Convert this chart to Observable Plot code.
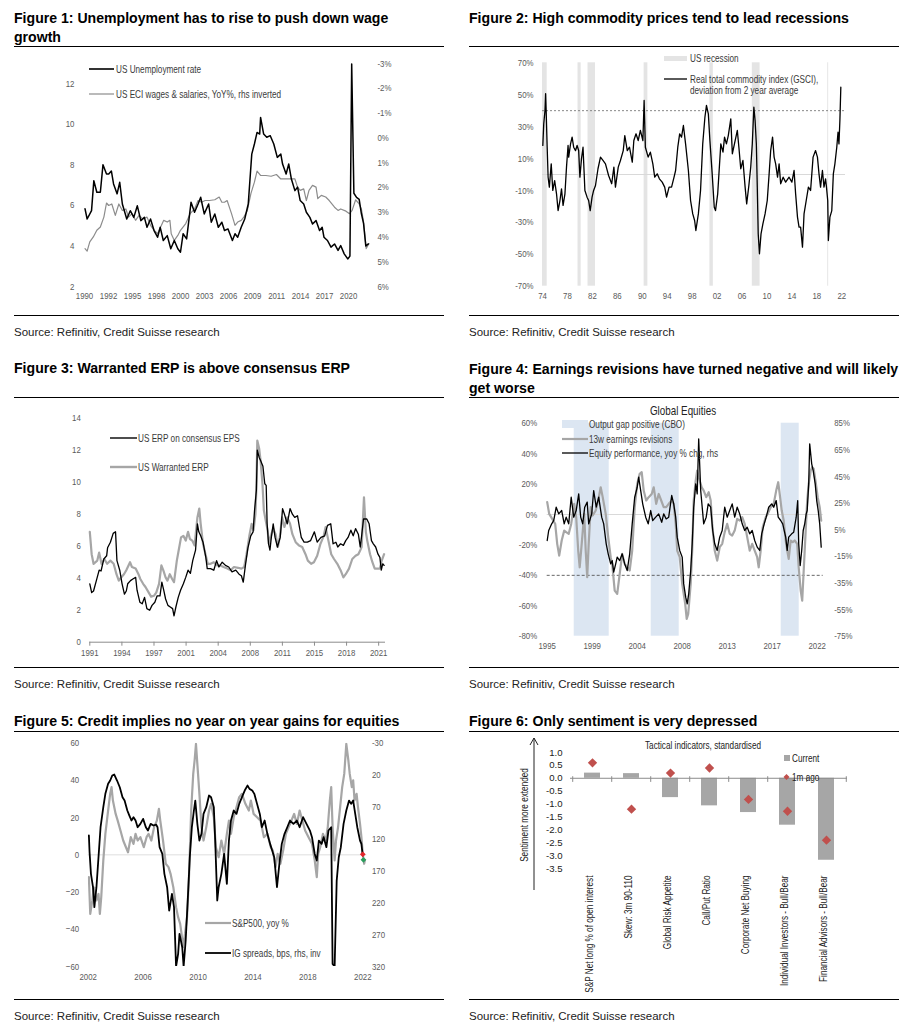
<!DOCTYPE html>
<html><head><meta charset="utf-8">
<script src="https://cdn.jsdelivr.net/npm/d3@7"></script>
<script src="https://cdn.jsdelivr.net/npm/@observablehq/plot@0.6"></script>
<style>
body{margin:0;background:#fff;}
#page{position:relative;width:910px;height:1028px;overflow:hidden;font-family:"Liberation Sans",Arial,sans-serif;background:#fff;}
.title{position:absolute;font-weight:bold;font-size:14.1px;line-height:19px;color:#000;white-space:nowrap;}
.rule{position:absolute;height:0;border-top:1.3px solid #000;}
.source{position:absolute;font-size:11.5px;line-height:14px;color:#222;white-space:nowrap;}
.plot{position:absolute;}
#overlay{position:absolute;left:0;top:0;pointer-events:none;}
</style></head><body><div id="page"></div>
<script>
const FONT = '"Liberation Sans",Arial,sans-serif';
const NARROW_K = 0.82; // horizontal condensing to imitate Arial Narrow

// ---------- Figure 1 ----------
const fig1Unemp = [[1990.06,5.83],[1990.3,5.33],[1990.8,5.74],[1991.06,7.22],[1991.4,6.65],[1991.8,6.65],[1992.1,8.01],[1992.5,7.55],[1992.75,7.55],[1993.05,7.7],[1993.3,7.06],[1993.7,6.57],[1994.0,7.14],[1994.3,6.07],[1994.8,5.33],[1995.2,5.74],[1995.6,5.41],[1996.0,5.98],[1996.4,5.25],[1996.8,5.41],[1997.1,4.92],[1997.5,5.33],[1997.9,4.76],[1998.3,4.43],[1998.6,4.92],[1998.95,4.27],[1999.4,4.51],[1999.8,3.86],[2000.2,4.27],[2000.6,3.86],[2000.9,3.69],[2001.2,4.6],[2001.6,4.35],[2002.1,6.15],[2002.5,5.66],[2002.9,6.07],[2003.2,6.4],[2003.6,5.58],[2004.1,6.07],[2004.4,5.17],[2004.8,5.58],[2005.2,4.92],[2005.6,5.17],[2005.9,4.76],[2006.3,4.84],[2006.8,4.27],[2007.1,4.6],[2007.4,4.43],[2007.8,4.92],[2008.2,5.33],[2008.6,6.07],[2009.0,8.53],[2009.3,9.03],[2009.6,9.6],[2009.9,9.52],[2010.0,10.34],[2010.35,9.52],[2010.7,9.36],[2011.1,9.44],[2011.5,9.03],[2011.9,8.37],[2012.3,8.53],[2012.5,8.04],[2012.9,7.55],[2013.2,8.04],[2013.5,7.3],[2013.9,6.73],[2014.2,6.9],[2014.5,6.24],[2014.9,6.07],[2015.2,5.66],[2015.6,5.41],[2015.9,5.08],[2016.3,5.25],[2016.7,4.76],[2017.0,4.92],[2017.2,4.43],[2017.6,4.27],[2018.0,3.94],[2018.4,4.1],[2018.8,3.78],[2019.1,4.02],[2019.5,3.61],[2019.9,3.36],[2020.15,3.5],[2020.35,12.97],[2020.6,6.6],[2020.9,6.4],[2021.2,6.3],[2021.45,5.6],[2021.7,5.1],[2021.95,4.0],[2022.25,4.1]];
const fig1Eci = [[1990.06,4.47],[1990.3,4.57],[1990.6,4.2],[1991.0,4.0],[1991.4,3.73],[1991.8,3.6],[1992.2,3.2],[1992.5,2.63],[1992.75,2.73],[1993.1,2.67],[1993.5,3.13],[1993.9,2.67],[1994.3,2.93],[1994.7,2.87],[1995.0,3.2],[1995.4,3.06],[1995.8,3.33],[1996.2,3.13],[1996.6,3.27],[1997.1,3.2],[1997.5,3.53],[1997.9,3.73],[1998.3,3.87],[1998.65,3.6],[1999.0,3.33],[1999.4,3.4],[1999.7,3.33],[1999.85,3.87],[2000.2,4.14],[2000.6,3.94],[2000.9,3.73],[2001.5,3.46],[2002.0,3.06],[2002.5,2.87],[2002.9,2.53],[2003.3,2.6],[2003.7,2.53],[2004.2,2.53],[2004.8,2.5],[2005.3,2.39],[2005.6,2.6],[2005.9,2.6],[2006.2,2.53],[2006.7,3.06],[2007.1,3.53],[2007.4,3.4],[2007.8,3.33],[2008.1,3.2],[2008.5,2.93],[2008.9,2.25],[2009.3,1.79],[2009.6,1.34],[2010.0,1.52],[2010.6,1.52],[2011.2,1.55],[2011.8,1.48],[2012.3,1.66],[2013.1,1.66],[2013.9,1.66],[2014.2,1.99],[2014.5,2.12],[2014.9,2.06],[2015.2,2.53],[2015.5,2.12],[2015.9,1.92],[2016.3,1.99],[2016.5,2.45],[2016.9,2.32],[2017.4,2.39],[2017.8,2.53],[2018.4,2.8],[2018.8,2.93],[2019.1,2.87],[2019.7,2.96],[2020.1,3.06],[2020.4,2.93],[2020.8,2.5],[2021.2,2.67],[2021.45,2.87],[2021.7,3.4],[2022.0,4.47],[2022.3,4.27]];
const fig1LeftTicks = [2,4,6,8,10,12];
const fig1RightTicks = [-3,-2,-1,0,1,2,3,4,5,6];
const fig1XLabels = ["1990","1992","1995","1998","2000","2003","2006","2009","2011","2014","2017","2020"];

// ---------- Figure 2 ----------
const fig2Gsci = [[1974.05,18.2],[1974.2,31.8],[1974.4,40.1],[1974.5,50.6],[1974.6,38.0],[1974.75,17.1],[1974.9,-1.7],[1975.1,-7.9],[1975.4,6.7],[1975.65,-10.0],[1975.95,-3.8],[1976.25,-12.1],[1976.5,-22.6],[1976.8,-16.3],[1977.05,-9.0],[1977.3,-19.4],[1977.6,-12.1],[1977.85,4.6],[1978.1,18.2],[1978.2,10.9],[1978.5,19.2],[1978.75,23.4],[1979.0,17.1],[1979.3,15.0],[1979.55,18.2],[1979.8,15.0],[1980.0,-1.7],[1980.25,9.8],[1980.5,17.1],[1980.8,-10.0],[1981.15,-14.2],[1981.4,-16.3],[1981.65,-22.6],[1981.95,-14.2],[1982.2,-10.0],[1982.5,-6.9],[1982.9,3.6],[1983.3,10.9],[1983.7,8.8],[1984.1,6.7],[1984.6,-0.6],[1985.1,-5.8],[1985.45,4.6],[1985.7,-7.9],[1986.15,4.6],[1986.5,8.8],[1986.95,15.0],[1987.2,24.4],[1987.6,15.0],[1987.95,17.1],[1988.4,7.7],[1988.65,21.3],[1989.0,25.5],[1989.35,21.3],[1989.7,27.6],[1990.1,21.3],[1990.3,46.4],[1990.5,17.1],[1990.95,10.9],[1991.3,14.0],[1991.7,6.7],[1992.0,-1.7],[1992.4,0.4],[1992.75,-2.7],[1993.2,-4.8],[1993.6,-7.9],[1993.9,-14.2],[1994.3,-7.9],[1994.7,-7.9],[1995.1,-1.7],[1995.35,2.5],[1995.7,17.1],[1996.0,25.5],[1996.3,23.4],[1996.6,30.7],[1996.95,19.2],[1997.4,2.5],[1997.75,-16.3],[1998.1,-24.7],[1998.4,-28.8],[1998.6,-35.1],[1999.0,-24.7],[1999.35,-10.0],[1999.7,19.2],[2000.05,35.9],[2000.3,43.3],[2000.6,38.0],[2000.85,21.3],[2001.2,1.5],[2001.55,-20.5],[2001.75,-22.6],[2002.1,-12.1],[2002.3,0.4],[2002.6,19.2],[2002.95,14.0],[2003.2,23.4],[2003.5,19.2],[2003.8,24.4],[2004.2,34.9],[2004.45,13.0],[2004.9,21.3],[2005.25,27.6],[2005.5,17.1],[2005.8,3.6],[2006.15,8.8],[2006.5,-7.9],[2006.75,-18.4],[2007.1,-6.9],[2007.4,4.6],[2007.65,19.2],[2007.9,42.2],[2008.1,33.8],[2008.3,19.2],[2008.45,-7.9],[2008.6,-37.2],[2008.8,-49.7],[2009.05,-37.2],[2009.35,-30.9],[2009.7,-24.7],[2010.05,-16.3],[2010.35,0.4],[2010.6,15.0],[2010.9,23.4],[2011.15,10.9],[2011.4,6.7],[2011.7,-1.7],[2011.95,6.7],[2012.2,-5.8],[2012.6,-1.7],[2013.0,-4.8],[2013.55,-1.7],[2014.0,-4.8],[2014.35,2.5],[2014.6,-12.1],[2014.9,-26.7],[2015.15,-33.0],[2015.4,-33.0],[2015.7,-45.5],[2015.95,-24.7],[2016.3,-16.3],[2016.65,-7.9],[2017.0,-10.0],[2017.4,10.9],[2017.8,15.0],[2018.1,10.9],[2018.35,0.4],[2018.6,-7.9],[2018.9,2.5],[2019.15,-7.9],[2019.4,-2.7],[2019.55,-7.9],[2019.75,-16.3],[2019.85,-41.4],[2020.1,-26.7],[2020.4,-22.6],[2020.65,0.4],[2020.9,6.7],[2021.2,17.1],[2021.4,26.5],[2021.55,19.2],[2021.7,33.8],[2021.85,54.7]];
const fig2Recessions = [[1974.0,1974.75],[1979.7,1980.2],[1981.3,1982.5],[1990.3,1990.9],[2000.85,2001.4],[2007.65,2008.9],[2019.75,2019.9]];
const fig2Threshold = [40];
const fig2YTicks = [-70,-50,-30,-10,10,30,50,70];
const fig2XTicks = [1974,1978,1982,1986,1990,1994,1998,2002,2006,2010,2014,2018,2022];

// ---------- Figure 3 ----------
const fig3Consensus = [[1991.0,3.65],[1991.2,3.1],[1991.4,3.2],[1991.7,3.85],[1992.0,4.5],[1992.2,4.45],[1992.5,5.2],[1992.8,5.4],[1992.9,5.9],[1993.2,6.25],[1993.5,6.8],[1993.75,6.9],[1993.9,5.1],[1994.2,4.5],[1994.45,3.65],[1994.7,3.0],[1994.9,3.2],[1995.05,3.65],[1995.35,3.85],[1995.6,3.95],[1995.9,4.05],[1996.05,3.25],[1996.35,2.5],[1996.6,2.4],[1996.85,2.8],[1997.1,2.1],[1997.4,2.0],[1997.65,2.3],[1997.95,2.5],[1998.2,2.9],[1998.5,2.9],[1998.7,3.75],[1998.9,3.25],[1999.1,2.7],[1999.35,2.3],[1999.6,2.2],[1999.85,2.1],[2000.0,1.65],[2000.2,2.2],[2000.45,2.8],[2000.7,3.25],[2001.0,3.65],[2001.25,4.05],[2001.5,4.5],[2001.75,4.3],[2002.0,5.1],[2002.3,5.75],[2002.5,7.4],[2002.65,6.9],[2002.85,6.65],[2003.1,6.25],[2003.4,5.3],[2003.55,4.6],[2003.9,4.6],[2004.25,4.5],[2004.55,5.1],[2004.8,4.7],[2005.15,5.0],[2005.5,4.8],[2005.85,4.7],[2006.2,4.4],[2006.6,4.5],[2006.95,4.25],[2007.2,4.15],[2007.4,3.75],[2007.65,4.9],[2007.9,5.9],[2008.2,6.65],[2008.45,6.9],[2008.6,8.2],[2008.8,9.5],[2008.9,12.0],[2009.1,11.55],[2009.25,11.35],[2009.5,11.0],[2009.7,9.9],[2009.85,9.8],[2009.95,7.4],[2010.1,6.15],[2010.25,5.75],[2010.4,6.55],[2010.6,7.4],[2010.8,6.55],[2011.05,5.95],[2011.35,6.55],[2011.6,8.35],[2011.8,8.0],[2012.1,7.4],[2012.4,8.35],[2012.65,8.0],[2012.9,7.8],[2013.2,7.9],[2013.4,7.2],[2013.6,6.55],[2013.9,6.25],[2014.25,6.25],[2014.6,6.35],[2015.0,6.9],[2015.3,6.25],[2015.7,6.55],[2016.1,6.65],[2016.4,7.3],[2016.75,7.4],[2017.0,6.15],[2017.3,6.25],[2017.5,5.95],[2017.8,6.15],[2018.1,6.05],[2018.35,6.35],[2018.6,6.55],[2018.9,7.0],[2019.15,6.65],[2019.4,7.1],[2019.7,6.75],[2019.9,5.95],[2020.05,6.65],[2020.25,7.7],[2020.6,7.7],[2020.85,7.4],[2021.1,6.35],[2021.3,6.15],[2021.55,5.95],[2021.8,5.5],[2022.0,5.3],[2022.15,4.5],[2022.3,4.9],[2022.45,4.8]];
const fig3Warranted = [[1991.0,6.9],[1991.2,5.5],[1991.4,4.9],[1991.8,5.1],[1992.0,5.6],[1992.25,4.9],[1992.55,5.2],[1992.85,4.9],[1993.2,5.1],[1993.55,4.9],[1993.85,4.25],[1994.1,3.85],[1994.35,4.05],[1994.65,4.25],[1994.9,4.5],[1995.3,5.0],[1995.5,4.7],[1995.9,4.6],[1996.2,4.25],[1996.4,3.95],[1996.7,3.65],[1996.95,3.45],[1997.3,3.1],[1997.55,2.85],[1997.85,2.9],[1998.1,3.1],[1998.4,3.65],[1998.65,4.8],[1998.85,4.5],[1999.1,4.05],[1999.3,3.85],[1999.55,4.25],[1999.8,3.95],[2000.0,3.75],[2000.3,5.1],[2000.5,5.75],[2000.75,6.55],[2001.0,6.65],[2001.25,6.35],[2001.5,6.9],[2001.7,6.45],[2001.95,6.35],[2002.2,6.05],[2002.5,7.8],[2002.7,8.35],[2002.85,7.4],[2003.1,6.15],[2003.4,5.4],[2003.6,4.9],[2003.9,4.9],[2004.25,5.0],[2004.6,4.8],[2004.95,4.8],[2005.3,4.7],[2005.7,4.6],[2006.05,4.5],[2006.4,4.7],[2006.85,4.65],[2007.2,4.6],[2007.5,4.7],[2007.75,5.5],[2008.05,6.65],[2008.3,7.4],[2008.5,7.0],[2008.7,8.0],[2008.8,9.6],[2008.9,12.6],[2009.1,12.1],[2009.25,11.35],[2009.45,9.9],[2009.6,8.25],[2009.8,7.6],[2010.0,7.0],[2010.15,6.15],[2010.4,6.75],[2010.6,7.1],[2010.85,6.75],[2011.1,5.95],[2011.3,6.55],[2011.55,7.8],[2011.8,7.2],[2012.1,7.8],[2012.4,7.4],[2012.65,6.75],[2013.0,6.25],[2013.35,6.05],[2013.7,5.95],[2014.05,5.5],[2014.3,5.1],[2014.65,4.9],[2014.95,5.0],[2015.3,5.4],[2015.65,6.15],[2016.0,6.65],[2016.2,7.2],[2016.5,6.35],[2016.8,5.5],[2017.1,5.2],[2017.45,4.9],[2017.8,4.5],[2018.1,4.05],[2018.35,4.25],[2018.7,4.6],[2019.05,5.2],[2019.4,5.4],[2019.7,5.5],[2019.9,5.75],[2020.05,5.95],[2020.3,9.05],[2020.5,6.9],[2020.65,6.35],[2020.95,5.5],[2021.2,5.0],[2021.45,4.6],[2021.75,4.6],[2022.0,4.6],[2022.2,5.1],[2022.45,5.5]];
const fig3YTicks = [0,2,4,6,8,10,12,14];
const fig3XLabels = ["1991","1994","1997","2001","2004","2008","2011","2015","2018","2021"];

// ---------- Figure 4 ----------
const fig4Revisions = [[1995.0,8.1],[1995.2,0.4],[1995.5,-2.9],[1995.8,-6.2],[1996.0,-19.3],[1996.2,-27.0],[1996.45,-17.1],[1996.7,-10.6],[1996.9,-11.6],[1997.15,-12.7],[1997.4,-6.2],[1997.7,7.0],[1997.9,-1.8],[1998.1,-23.7],[1998.25,-34.7],[1998.45,-19.3],[1998.7,0.4],[1998.85,-23.7],[1999.0,-41.2],[1999.15,-19.3],[1999.35,4.8],[1999.55,-0.7],[1999.85,2.6],[2000.1,9.2],[2000.35,17.9],[2000.55,11.4],[2000.85,0.4],[2001.1,-14.9],[2001.35,-28.1],[2001.5,-32.5],[2001.75,-50.0],[2002.0,-52.2],[2002.25,-39.0],[2002.5,-25.9],[2002.75,-32.5],[2003.0,-34.7],[2003.25,-36.8],[2003.5,-23.7],[2003.75,4.8],[2004.0,20.1],[2004.25,26.7],[2004.45,27.8],[2004.65,15.7],[2004.9,9.2],[2005.15,11.4],[2005.45,13.5],[2005.65,17.9],[2005.9,7.0],[2006.15,13.5],[2006.4,9.2],[2006.65,4.8],[2006.9,4.8],[2007.15,7.0],[2007.45,9.2],[2007.65,7.0],[2007.85,-6.2],[2008.0,-23.7],[2008.25,-28.1],[2008.5,-45.6],[2008.8,-58.8],[2008.95,-68.6],[2009.1,-65.3],[2009.35,-45.6],[2009.5,-23.7],[2009.65,9.2],[2009.85,22.3],[2010.0,28.9],[2010.15,24.5],[2010.45,17.9],[2010.65,15.7],[2010.9,11.4],[2011.15,14.6],[2011.35,9.2],[2011.5,-6.2],[2011.75,-23.7],[2012.0,-30.3],[2012.25,-21.5],[2012.5,-19.3],[2012.75,-11.6],[2013.0,-6.2],[2013.25,-12.7],[2013.5,-13.8],[2013.75,-10.6],[2014.0,-2.9],[2014.25,-4.0],[2014.5,-1.8],[2014.75,-6.2],[2015.0,-14.9],[2015.25,-23.7],[2015.5,-19.3],[2015.75,-23.7],[2016.0,-28.1],[2016.15,-34.7],[2016.35,-23.7],[2016.55,-8.4],[2016.85,-1.8],[2017.05,0.4],[2017.35,4.8],[2017.65,7.0],[2017.9,15.7],[2018.1,21.2],[2018.25,13.5],[2018.45,2.6],[2018.65,-4.0],[2018.85,-17.1],[2019.0,-23.7],[2019.15,-29.2],[2019.35,-17.1],[2019.55,-18.2],[2019.75,-17.1],[2020.0,-19.3],[2020.15,-34.7],[2020.35,-50.0],[2020.5,-56.6],[2020.65,-36.8],[2020.85,-10.6],[2021.0,9.2],[2021.15,20.1],[2021.35,28.9],[2021.5,31.1],[2021.65,30.0],[2021.85,21.2],[2022.05,11.4],[2022.25,4.8],[2022.4,-4.0]];
const fig4Equity = [[1995.0,-3.1],[1995.15,4.4],[1995.45,9.4],[1995.65,11.9],[1995.9,21.9],[1996.15,16.9],[1996.45,19.4],[1996.7,9.4],[1996.9,14.4],[1997.15,9.4],[1997.4,29.4],[1997.65,14.4],[1997.9,19.4],[1998.15,31.9],[1998.35,14.4],[1998.55,9.4],[1998.75,21.9],[1999.0,25.7],[1999.15,9.4],[1999.45,16.9],[1999.65,34.4],[1999.9,21.9],[2000.15,29.4],[2000.45,14.4],[2000.65,9.4],[2000.9,-5.6],[2001.1,-13.1],[2001.35,-20.7],[2001.5,-18.2],[2001.65,-26.9],[2001.85,-20.7],[2002.0,-15.6],[2002.25,-18.2],[2002.5,-13.1],[2002.75,-20.7],[2003.0,-25.7],[2003.25,-13.1],[2003.5,9.4],[2003.75,29.4],[2004.0,36.9],[2004.15,44.4],[2004.35,34.4],[2004.55,24.4],[2004.85,14.4],[2005.1,9.4],[2005.35,19.4],[2005.55,11.9],[2005.85,14.4],[2006.15,16.9],[2006.45,10.6],[2006.65,16.9],[2006.9,13.1],[2007.15,14.4],[2007.45,30.7],[2007.65,24.4],[2007.85,14.4],[2008.0,-0.6],[2008.25,-10.6],[2008.5,-15.6],[2008.65,-35.7],[2008.85,-45.7],[2009.0,-50.7],[2009.15,-43.2],[2009.35,-25.7],[2009.5,-5.6],[2009.65,21.9],[2009.85,39.4],[2010.0,31.9],[2010.15,73.2],[2010.35,34.4],[2010.5,21.9],[2010.65,9.4],[2010.9,14.4],[2011.1,24.4],[2011.35,21.9],[2011.55,4.4],[2011.75,-5.6],[2012.0,-10.6],[2012.25,-0.6],[2012.5,4.4],[2012.75,21.9],[2013.0,14.4],[2013.25,19.4],[2013.5,24.4],[2013.75,14.4],[2014.0,21.9],[2014.25,16.9],[2014.5,9.4],[2014.75,4.4],[2015.0,6.9],[2015.25,1.9],[2015.5,4.4],[2015.75,-3.1],[2016.0,-8.1],[2016.25,-10.6],[2016.45,1.9],[2016.7,9.4],[2016.9,14.4],[2017.15,21.9],[2017.45,24.4],[2017.65,21.9],[2017.9,26.9],[2018.1,14.4],[2018.35,11.9],[2018.55,9.4],[2018.85,-0.6],[2019.0,-10.6],[2019.15,-0.6],[2019.45,1.9],[2019.65,3.1],[2019.9,14.4],[2020.05,26.9],[2020.15,-5.6],[2020.3,-21.9],[2020.45,-10.6],[2020.6,4.4],[2020.75,9.4],[2020.9,16.9],[2021.0,19.4],[2021.15,39.4],[2021.25,69.5],[2021.45,54.5],[2021.6,49.4],[2021.8,39.4],[2021.95,26.9],[2022.1,19.4],[2022.25,9.4],[2022.4,-8.1]];
const fig4OutputGap = [[1997.7,2001.2],[2005.4,2008.2],[2018.4,2020.2]];
const fig4Threshold = [-40];
const fig4LeftTicks = [60,40,20,0,-20,-40,-60,-80];
const fig4RightTicks = [85,65,45,25,5,-15,-35,-55,-75];
const fig4XLabels = ["1995","1999","2004","2008","2013","2017","2022"];

// ---------- Figure 5 ----------
const fig5Spx = [[2002.05,-12.0],[2002.15,-31.7],[2002.3,-24.5],[2002.4,-17.4],[2002.6,-24.5],[2002.75,-21.0],[2002.85,-31.7],[2002.95,-22.7],[2003.1,-3.0],[2003.25,11.3],[2003.45,23.8],[2003.6,32.8],[2003.7,36.4],[2003.8,29.2],[2004.0,22.0],[2004.15,18.4],[2004.35,13.1],[2004.55,7.7],[2004.75,4.1],[2004.9,1.4],[2005.1,9.5],[2005.3,5.9],[2005.45,11.3],[2005.6,7.7],[2005.8,9.5],[2006.05,4.1],[2006.25,9.5],[2006.4,11.3],[2006.6,7.7],[2006.8,14.9],[2007.0,18.4],[2007.15,24.7],[2007.25,18.4],[2007.45,7.7],[2007.65,-4.8],[2007.85,-6.6],[2008.0,-10.2],[2008.2,-17.4],[2008.4,-28.1],[2008.55,-33.5],[2008.7,-37.1],[2008.8,-42.5],[2008.9,-49.6],[2009.05,-42.5],[2009.2,-33.5],[2009.35,-10.2],[2009.5,23.8],[2009.65,43.5],[2009.75,50.7],[2009.85,59.6],[2010.0,43.5],[2010.1,32.8],[2010.25,14.9],[2010.4,7.7],[2010.6,14.9],[2010.8,23.8],[2010.95,27.4],[2011.15,20.2],[2011.3,4.1],[2011.5,-1.3],[2011.7,7.7],[2011.9,0.5],[2012.1,11.3],[2012.25,18.4],[2012.4,11.3],[2012.6,20.2],[2012.8,25.6],[2013.0,31.0],[2013.2,32.8],[2013.45,27.4],[2013.7,23.8],[2013.85,29.2],[2014.05,22.0],[2014.3,20.2],[2014.55,18.4],[2014.8,9.5],[2015.05,11.3],[2015.3,4.1],[2015.45,2.3],[2015.65,-6.6],[2015.8,0.5],[2016.0,-4.8],[2016.2,2.3],[2016.4,11.3],[2016.6,14.9],[2016.8,18.4],[2017.0,22.0],[2017.2,16.6],[2017.4,23.8],[2017.6,18.4],[2017.8,13.1],[2018.05,9.5],[2018.3,5.9],[2018.5,-3.0],[2018.65,-12.0],[2018.75,0.5],[2018.9,4.1],[2019.1,11.3],[2019.3,7.7],[2019.45,14.9],[2019.6,29.2],[2019.7,36.4],[2019.8,14.9],[2019.95,-3.0],[2020.05,7.7],[2020.2,14.9],[2020.35,25.6],[2020.5,36.4],[2020.65,43.5],[2020.8,59.6],[2020.95,50.7],[2021.05,43.5],[2021.2,36.4],[2021.3,40.0],[2021.4,29.2],[2021.55,32.8],[2021.65,25.6],[2021.8,16.6],[2021.9,9.5],[2022.0,0.5],[2022.1,-4.8],[2022.15,-3.0]];
const fig5IgSpreads = [[2002.05,114.7],[2002.1,140.8],[2002.2,174.8],[2002.35,195.7],[2002.45,227.0],[2002.6,195.7],[2002.75,148.7],[2002.9,101.7],[2003.1,70.3],[2003.25,49.4],[2003.45,33.7],[2003.6,28.5],[2003.75,20.7],[2003.9,19.1],[2004.1,28.5],[2004.3,39.0],[2004.5,54.6],[2004.65,59.9],[2004.85,75.5],[2005.0,83.4],[2005.15,91.2],[2005.3,86.0],[2005.45,91.2],[2005.6,101.7],[2005.8,96.4],[2006.0,88.6],[2006.2,101.7],[2006.35,106.9],[2006.55,96.4],[2006.75,99.0],[2006.95,97.5],[2007.05,101.7],[2007.2,133.0],[2007.4,143.5],[2007.55,174.8],[2007.75,195.7],[2007.9,232.3],[2008.1,206.2],[2008.25,227.0],[2008.4,320],[2008.55,300.2],[2008.65,268.8],[2008.85,289.8],[2008.95,320],[2009.1,279.3],[2009.25,216.6],[2009.4,148.7],[2009.55,101.7],[2009.7,75.5],[2009.8,59.9],[2009.95,96.4],[2010.1,122.6],[2010.25,112.1],[2010.4,80.8],[2010.6,70.3],[2010.8,52.0],[2010.95,54.6],[2011.15,70.3],[2011.25,122.6],[2011.4,216.6],[2011.5,195.7],[2011.7,174.8],[2011.9,143.5],[2012.1,190.5],[2012.25,122.6],[2012.4,91.2],[2012.6,75.5],[2012.8,80.8],[2013.0,65.1],[2013.2,54.6],[2013.4,44.2],[2013.6,36.4],[2013.75,41.6],[2013.95,44.2],[2014.1,49.4],[2014.3,65.1],[2014.5,80.8],[2014.65,101.7],[2014.85,91.2],[2015.05,112.1],[2015.25,127.8],[2015.4,138.2],[2015.55,148.7],[2015.75,195.7],[2015.95,153.9],[2016.1,127.8],[2016.3,112.1],[2016.5,101.7],[2016.7,91.2],[2016.95,96.4],[2017.2,91.2],[2017.4,101.7],[2017.65,86.0],[2017.9,96.4],[2018.15,106.9],[2018.3,117.3],[2018.5,143.5],[2018.65,153.9],[2018.8,122.6],[2019.0,127.8],[2019.15,117.3],[2019.35,133.0],[2019.5,106.9],[2019.7,101.7],[2019.8,315.9],[2019.95,320],[2020.1,185.3],[2020.25,148.7],[2020.4,133.0],[2020.6,96.4],[2020.8,75.5],[2021.0,59.9],[2021.15,65.1],[2021.3,59.9],[2021.45,80.8],[2021.6,101.7],[2021.8,122.6],[2021.9,127.8],[2022.0,146.1]];
const fig5EndMarks = [{year:2022.0, value:0.3, color:"#e3262b"},{year:2022.05, value:-2.7, color:"#2a9d5c"}];
const fig5LeftTicks = [60,40,20,0,-20,-40,-60];
const fig5RightTicks = [-30,20,70,120,170,220,270,320];
const fig5XTicks = [2002,2006,2010,2014,2018,2022];

// ---------- Figure 6 ----------
const fig6Categories = ["S&P Net long % of open interest","Skew: 3m 90-110","Global Risk Appetite","Call/Put Ratio","Corporate Net Buying","Individual Investors - Bull/Bear","Financial Advisors - Bull/Bear"];
const fig6Current = [0.2, 0.18, -0.75, -1.07, -1.33, -1.82, -3.18];
const fig6MonthAgo = [0.6, -1.2, 0.2, 0.4, -0.82, -1.28, -2.4];
const fig6YTicks = [1.0,0.5,0.0,-0.5,-1.0,-1.5,-2.0,-2.5,-3.0,-3.5];

// ================= helpers =================
const page = document.getElementById("page");
function addEl(cls, left, top, text, width) {
  const d = document.createElement("div");
  d.className = cls; d.style.left = left + "px"; d.style.top = top + "px";
  if (width != null) d.style.width = width + "px";
  if (text != null) d.innerHTML = text;
  page.appendChild(d); return d;
}
// squeeze text horizontally (text stays real text)
function condense(svg, k, skipSel) {
  const skip = new Set(skipSel ? svg.querySelectorAll(skipSel) : []);
  svg.querySelectorAll("text").forEach(t => {
    if (skip.has(t)) return;
    const tr = t.getAttribute("transform");
    if (tr) t.setAttribute("transform", tr + ` scale(${k},1)`);
    else {
      const x = +t.getAttribute("x") || 0;
      t.setAttribute("transform", `translate(${x},0) scale(${k},1) translate(${-x},0)`);
    }
  });
}
function place(svg, left, top, skipSel) { condense(svg, NARROW_K, skipSel); const d = addEl("plot", left, top); d.appendChild(svg); }
const baseStyle = {fontFamily: FONT, fontSize: "9.6px", color: "#5a5a5a", background: "transparent", overflow: "visible"};
const X = d => d[0], Y = d => d[1];
function evenTicks(labels, start, step) {
  const ticks = labels.map((_, i) => start + i * step);
  return {ticks, tickFormat: v => labels[Math.round((v - start) / step)]};
}

// Frames (titles, rules, sources)
const COL = [14, 469], W = 430;
addEl("title", COL[0], 8.5, "Figure 1: Unemployment has to rise to push down wage<br>growth");
addEl("title", COL[1], 8.5, "Figure 2: High commodity prices tend to lead recessions");
addEl("title", COL[0], 358.5, "Figure 3: Warranted ERP is above consensus ERP");
addEl("title", COL[1], 359.5, "Figure 4: Earnings revisions have turned negative and will likely<br>get worse");
addEl("title", COL[0], 711.5, "Figure 5: Credit implies no year on year gains for equities");
addEl("title", COL[1], 711.5, "Figure 6: Only sentiment is very depressed");
[[46,315],[397,667],[731,999]].forEach(([a,b]) => {
  COL.forEach(c => { addEl("rule", c, a, null, W); addEl("rule", c, b, null, W); });
});
[325, 677, 1009].forEach(t => COL.forEach(c => addEl("source", c, t, "Source: Refinitiv, Credit Suisse research")));

// ================= Figure 1 =================
const toL1 = r => 2 + (6 - r) * 11 / 9, fromL1 = L => 6 - (L - 2) * 9 / 11;
const f1x = evenTicks(fig1XLabels, 1990, 30 / 11);
place(Plot.plot({
  width: 430, height: 265, marginLeft: 70, marginRight: 73, marginTop: 13, marginBottom: 29,
  style: baseStyle,
  x: {domain: [1990, 2022.6], label: null}, y: {domain: [2, 13], label: null},
  marks: [
    Plot.axisY({ticks: fig1LeftTicks, tickSize: 0, tickPadding: 10, label: null}),
    Plot.axisY({anchor: "right", ticks: fig1RightTicks.map(toL1), tickFormat: v => Math.round(fromL1(v)) + "%", tickSize: 0, tickPadding: 6, label: null}),
    Plot.axisX({ticks: f1x.ticks, tickFormat: f1x.tickFormat, tickSize: 0, tickPadding: 6, label: null}),
    Plot.line(fig1Eci, {x: X, y: d => toL1(d[1]), stroke: "#8c8c8c", strokeWidth: 1.2}),
    Plot.line(fig1Unemp, {x: X, y: Y, stroke: "#000", strokeWidth: 1.5})
  ]
}), 14, 50);

// ================= Figure 2 =================
place(Plot.plot({
  width: 430, height: 265, marginLeft: 73, marginRight: 54, marginTop: 12.3, marginBottom: 29.3,
  style: baseStyle,
  x: {domain: [1974, 2022.6], label: null}, y: {domain: [-70, 70], label: null},
  marks: [
    Plot.rect(fig2Recessions, {x1: X, x2: Y, fill: "#e4e4e4"}),
    Plot.ruleY([0], {stroke: "#d9d9d9"}),
    Plot.ruleY(fig2Threshold, {stroke: "#7a7a7a", strokeDasharray: "2,2", strokeWidth: 0.9}),
    Plot.axisY({ticks: fig2YTicks, tickFormat: d => d + "%", tickSize: 0, tickPadding: 9, label: null}),
    Plot.axisX({ticks: fig2XTicks, tickFormat: d => String(d % 100).padStart(2, "0"), tickSize: 0, tickPadding: 6, label: null}),
    Plot.line(fig2Gsci, {x: X, y: Y, stroke: "#000", strokeWidth: 1.3})
  ]
}), 469, 50);

// ================= Figure 3 =================
const f3x = evenTicks(fig3XLabels, 1991, 3.43);
place(Plot.plot({
  width: 430, height: 267, marginLeft: 75.3, marginRight: 59, marginTop: 17.7, marginBottom: 25.3,
  style: baseStyle,
  x: {domain: [1991, 2022.6], label: null}, y: {domain: [0, 14], label: null},
  marks: [
    Plot.axisY({ticks: fig3YTicks, tickSize: 0, tickPadding: 9, label: null}),
    Plot.ruleY([0], {stroke: "#8c8c8c"}),
    Plot.axisX({ticks: f3x.ticks, tickFormat: f3x.tickFormat, tickSize: 4, tickPadding: 3, stroke: "#8c8c8c", label: null}),
    Plot.line(fig3Warranted, {x: X, y: Y, stroke: "#a6a6a6", strokeWidth: 2.2}),
    Plot.line(fig3Consensus, {x: X, y: Y, stroke: "#000", strokeWidth: 1.3})
  ]
}), 14, 400);

// ================= Figure 4 =================
const toL4 = r => 60 - (85 - r) * 140 / 160, fromL4 = L => 85 - (60 - L) * 160 / 140;
const f4x = evenTicks(fig4XLabels, 1995, 4.5);
place(Plot.plot({
  width: 430, height: 267, marginLeft: 77.7, marginRight: 76.3, marginTop: 22.7, marginBottom: 31.3,
  style: baseStyle,
  x: {domain: [1995, 2022.6], label: null}, y: {domain: [-80, 60], label: null},
  marks: [
    Plot.rect(fig4OutputGap, {x1: X, x2: Y, fill: "#dce6f2"}),
    Plot.ruleY([0], {stroke: "#d9d9d9"}),
    Plot.ruleY(fig4Threshold, {stroke: "#555", strokeDasharray: "3,2", strokeWidth: 0.9}),
    Plot.axisY({ticks: fig4LeftTicks, tickFormat: d => d + "%", tickSize: 0, tickPadding: 10, label: null}),
    Plot.axisY({anchor: "right", ticks: fig4RightTicks.map(toL4), tickFormat: v => Math.round(fromL4(v)) + "%", tickSize: 0, tickPadding: 11, label: null}),
    Plot.axisX({ticks: f4x.ticks, tickFormat: f4x.tickFormat, tickSize: 0, tickPadding: 6, label: null}),
    Plot.line(fig4Revisions, {x: X, y: Y, stroke: "#a6a6a6", strokeWidth: 2.2}),
    Plot.line(fig4Equity, {x: X, y: d => toL4(d[1]), stroke: "#000", strokeWidth: 1.3})
  ]
}), 469, 400);

// ================= Figure 5 =================
const toL5 = r => 60 - (r + 30) * 120 / 350, fromL5 = L => (60 - L) * 350 / 120 - 30;
place(Plot.plot({
  width: 430, height: 264, marginLeft: 73.7, marginRight: 77.6, marginTop: 7.7, marginBottom: 33,
  style: baseStyle,
  x: {domain: [2002, 2022.3], label: null}, y: {domain: [-60, 60], label: null},
  marks: [
    Plot.ruleY([0], {stroke: "#dedede"}),
    Plot.axisY({ticks: fig5LeftTicks, tickSize: 0, tickPadding: 9, label: null}),
    Plot.axisY({anchor: "right", ticks: fig5RightTicks.map(toL5), tickFormat: v => Math.round(fromL5(v)), tickSize: 0, tickPadding: 5, label: null}),
    Plot.axisX({ticks: fig5XTicks, tickSize: 0, tickFormat: d => String(d), tickPadding: 7, label: null}),
    Plot.line(fig5Spx, {x: X, y: Y, stroke: "#a6a6a6", strokeWidth: 2.2, clip: true}),
    Plot.line(fig5IgSpreads, {x: X, y: d => toL5(d[1]), stroke: "#000", strokeWidth: 1.8, clip: true}),
    Plot.dot(fig5EndMarks, {x: "year", y: "value", fill: "color", r: 2.6, symbol: "diamond2"})
  ]
}), 14, 735);

// ================= Figure 6 =================
const fig6Data = fig6Categories.map((c, i) => ({cat: c, current: fig6Current[i], ago: fig6MonthAgo[i]}));
const f6Step = (847 - 570) / 7;
place(Plot.plot({
  width: 430, height: 264, marginLeft: 101, marginRight: 52, marginTop: 17, marginBottom: 131,
  style: {...baseStyle, color: "#222"},
  x: {type: "band", domain: fig6Categories, paddingInner: 0.6, paddingOuter: 0.3, axis: null},
  y: {domain: [-3.5, 1.0], label: null},
  marks: [
    Plot.axisY({ticks: fig6YTicks, tickFormat: d => d.toFixed(1), tickSize: 0, tickPadding: 8, fontSize: 9.6, label: null}),
    Plot.barY(fig6Data, {x: "cat", y: "current", fill: "#a6a6a6"}),
    Plot.ruleY([0], {stroke: "#8c8c8c"}),
    Plot.ruleX(fig6Categories, {x: d => d, y1: 0.06, y2: -0.16, dx: -f6Step / 2, stroke: "#8c8c8c"}),
    Plot.ruleX(fig6Categories.slice(-1), {x: d => d, y1: 0.06, y2: -0.16, dx: f6Step / 2, stroke: "#8c8c8c"}),
    Plot.dot(fig6Data, {x: "cat", y: "ago", symbol: "diamond2", fill: "#c0504d", r: 4.2}),
    Plot.text(fig6Categories, {x: d => d, frameAnchor: "bottom", text: d => d, rotate: -90, textAnchor: "end", dy: 7, fontSize: 10, fill: "#222"})
  ]
}), 469, 735, 'g[aria-label="y-axis tick label"] text');

// ================= Overlay: legends & annotations =================
const ov = d3.select(page).append("svg").attr("id", "overlay").attr("width", 910).attr("height", 1028)
  .style("font-family", FONT).style("font-size", "10px");
function lLine(x1, x2, y, color, w) { ov.append("line").attr("x1", x1).attr("x2", x2).attr("y1", y).attr("y2", y).attr("stroke", color).attr("stroke-width", w); }
function lText(x, y, t, o = {}) {
  const e = ov.append("text").attr("dy", "0.35em").attr("fill", o.fill || "#3a3a3a")
    .attr("transform", `translate(${x},${y})${o.rotate ? ` rotate(${o.rotate})` : ""} scale(${NARROW_K},1)`).text(t);
  if (o.anchor) e.attr("text-anchor", o.anchor);
  if (o.size) e.style("font-size", o.size + "px");
  return e;
}
function lRect(x, y, w, h, color) { ov.append("rect").attr("x", x).attr("y", y).attr("width", w).attr("height", h).attr("fill", color); }

// Fig 1
lLine(89, 114, 69, "#000", 1.6); lText(116, 69, "US Unemployment rate");
lLine(89, 114, 94, "#8c8c8c", 1.2); lText(116, 94, "US ECI wages & salaries, YoY%, rhs inverted");
// Fig 2
lRect(664, 56, 23, 5, "#e4e4e4"); lText(690, 58, "US recession");
lLine(664, 687, 79, "#000", 1.3); lText(690, 79, "Real total commodity index (GSCI),"); lText(690, 90, "deviation from 2 year average");
// Fig 3
lLine(110, 137, 438, "#000", 1.4); lText(138, 438, "US ERP on consensus EPS");
lLine(110, 137, 467, "#a6a6a6", 2.4); lText(138, 467, "US Warranted ERP");
// Fig 4
lText(683, 411, "Global Equities", {anchor: "middle", size: 12, fill: "#222"});
lRect(562, 420, 26, 8, "#dce6f2"); lText(589, 424, "Output gap positive (CBO)");
lLine(562, 588, 439, "#a6a6a6", 2.2); lText(589, 439, "13w earnings revisions");
lLine(562, 588, 453, "#000", 1.3); lText(589, 453, "Equity performance, yoy % chg, rhs");
// Fig 5
lLine(205, 231, 923, "#a6a6a6", 2.2); lText(232, 923, "S&P500, yoy %");
lLine(205, 231, 953, "#000", 1.8); lText(232, 953, "IG spreads, bps, rhs, inv");
// Fig 6
lText(703, 745, "Tactical indicators, standardised", {anchor: "middle", size: 10, fill: "#222"});
lRect(784, 755, 6, 6, "#a6a6a6"); lText(792, 758, "Current", {fill: "#222"});
ov.append("path").attr("d", "M786.5,774 L789.5,777 L786.5,780 L783.5,777 Z").attr("fill", "#c0504d");
lText(792, 777, "1m ago", {fill: "#222"});
ov.append("path").attr("d", "M534,890 L534,738 M530,745 L534,738 L538,745").attr("stroke", "#222").attr("fill", "none").attr("stroke-width", 1);
lText(524, 815, "Sentiment more extended", {anchor: "middle", rotate: -90, fill: "#222"});
</script></body></html>
